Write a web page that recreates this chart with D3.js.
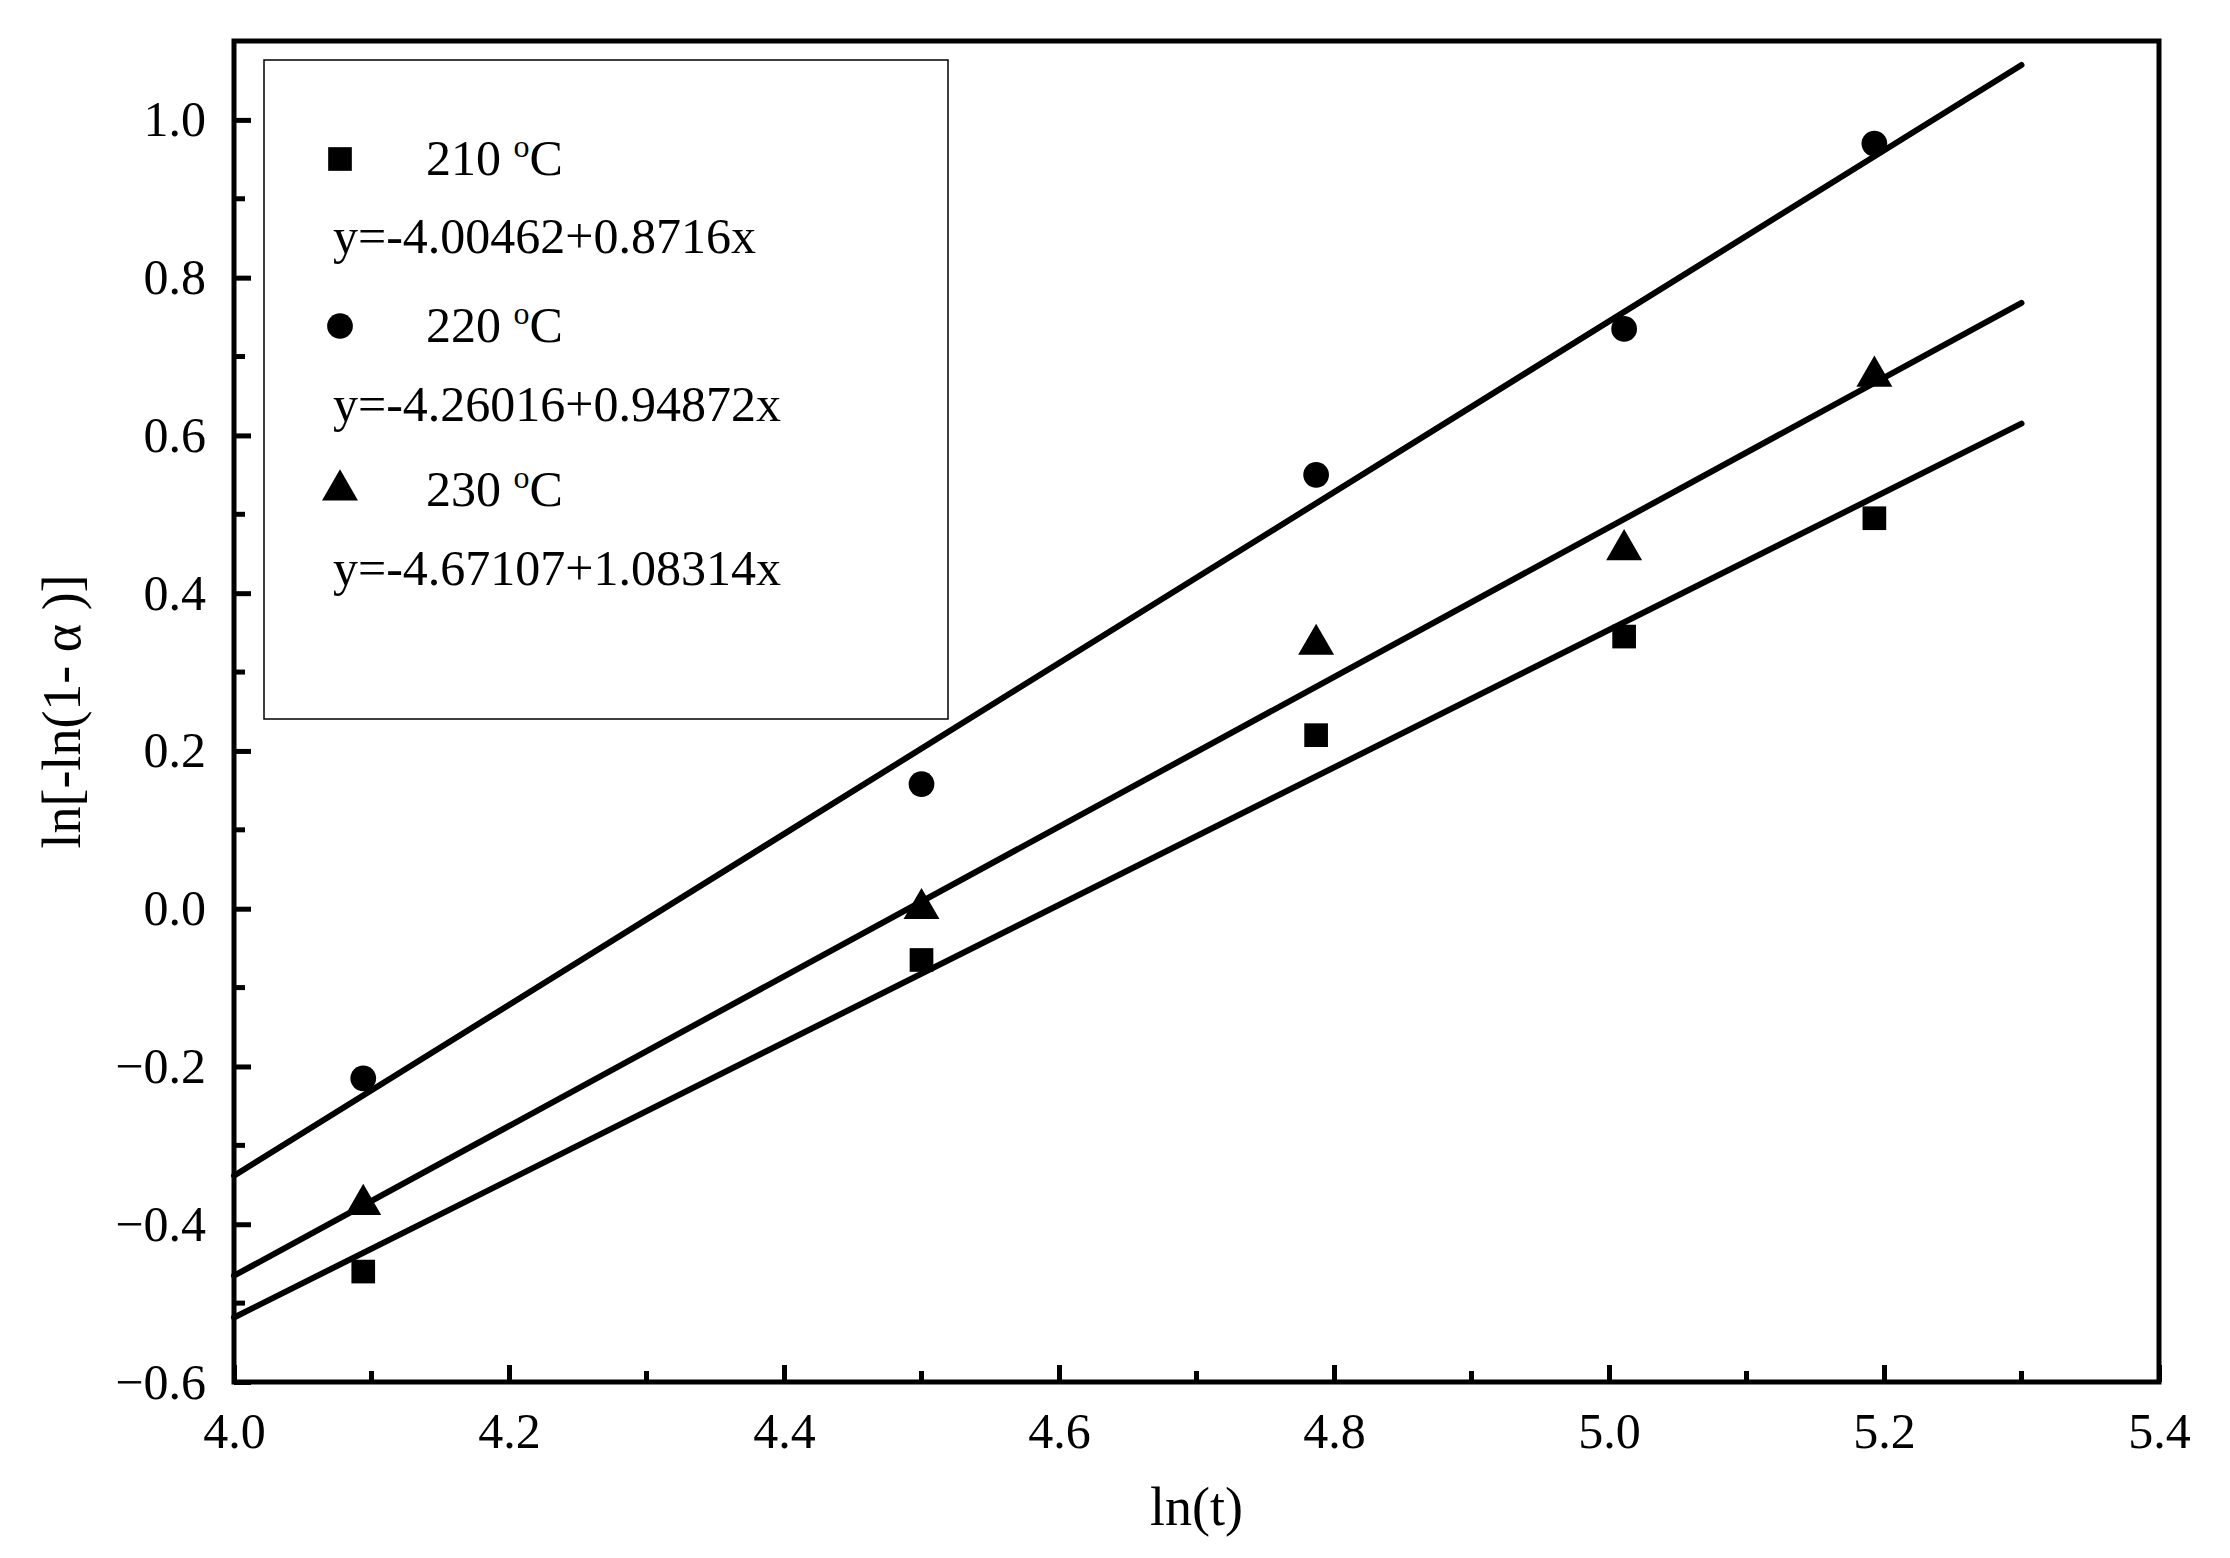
<!DOCTYPE html><html><head><meta charset="utf-8"><script src="https://cdn.jsdelivr.net/npm/d3@7"></script>
<style>body{margin:0;background:#fff}</style></head><body><svg id="c" width="2230" height="1558"></svg>
<script>
const xs=[4.094,4.5,4.787,5.011,5.193];
const s210=[-0.46,-0.065,0.22,0.345,0.495];
const s220=[-0.215,0.158,0.55,0.735,0.97];
const s230=[-0.375,0.0,0.335,0.455,0.675];
const fits=[[-4.00462,0.8716],[-4.67107,1.08314],[-4.26016,0.94872]];
const legendLabels=["210 °C","220 °C","230 °C"];
const eqs=["y=-4.00462+0.8716x","y=-4.26016+0.94872x","y=-4.67107+1.08314x"];
const xTicks=[4.0,4.2,4.4,4.6,4.8,5.0,5.2,5.4];
const yTicks=[-0.6,-0.4,-0.2,0.0,0.2,0.4,0.6,0.8,1.0];
const svg=d3.select("#c");
const L=234,R=2159,T=41,B=1382;
const x=d3.scaleLinear().domain([4.0,5.4]).range([L,R]);
const y=d3.scaleLinear().domain([-0.6,1.1]).range([B,T]);
const font="'Liberation Serif','Times New Roman',serif";
// minor ticks
const xMin=d3.range(4.1,5.4,0.2), yMin=d3.range(-0.5,1.1,0.2);
const gx=svg.append("g").attr("transform",`translate(0,${B})`)
 .call(d3.axisBottom(x).tickValues(xTicks).tickFormat(d3.format(".1f")).tickSize(-17).tickPadding(30));
gx.selectAll(".tick line").attr("stroke-width",5);
svg.append("g").attr("transform",`translate(0,${B})`).selectAll("line").data(xMin).join("line")
 .attr("x1",d=>x(d)).attr("x2",d=>x(d)).attr("y1",0).attr("y2",-11).attr("stroke","#000").attr("stroke-width",5);
const gy=svg.append("g").attr("transform",`translate(${L},0)`)
 .call(d3.axisLeft(y).tickValues(yTicks).tickFormat(d3.format(".1f")).tickSize(-17).tickPadding(28));
gy.selectAll(".tick line").attr("stroke-width",5);
svg.append("g").attr("transform",`translate(${L},0)`).selectAll("line").data(yMin).join("line")
 .attr("y1",d=>y(d)).attr("y2",d=>y(d)).attr("x1",0).attr("x2",11).attr("stroke","#000").attr("stroke-width",5);
svg.selectAll(".domain").remove();
svg.selectAll(".tick text").attr("font-family",font).attr("font-size",50).attr("fill","#000");
svg.append("rect").attr("x",L).attr("y",T).attr("width",R-L).attr("height",B-T).attr("fill","none").attr("stroke","#000").attr("stroke-width",5);
// fit lines
fits.forEach(([a,b])=>{
 svg.append("line").attr("x1",x(4.0)).attr("y1",y(a+b*4.0)).attr("x2",x(5.3)).attr("y2",y(a+b*5.3))
  .attr("stroke","#000").attr("stroke-width",6).attr("stroke-linecap","round");
});
const sq=d3.symbol(d3.symbolSquare,560), ci=d3.symbol(d3.symbolCircle,520), tr=d3.symbol(d3.symbolTriangle,560);
const series=[[s210,sq],[s220,ci],[s230,tr]];
series.forEach(([v,sym])=>{
 svg.append("g").selectAll("path").data(v).join("path")
  .attr("transform",(d,i)=>`translate(${x(xs[i])},${y(d)})`).attr("d",sym).attr("fill","#000");
});
// legend
svg.append("rect").attr("x",264).attr("y",60).attr("width",684).attr("height",659).attr("fill","none").attr("stroke","#000").attr("stroke-width",1.5);
const rowY=[159,326,490], eqY=[237,405,569], syms=[sq,ci,tr];
rowY.forEach((ry,i)=>{
 svg.append("path").attr("d",syms[i]).attr("fill","#000").attr("transform",`translate(340,${ry})`);
 const t=svg.append("text").attr("x",426).attr("y",ry+16).attr("font-family",font).attr("font-size",50);
 const parts=legendLabels[i].split(" °");
 t.append("tspan").text(parts[0]+" ");
 t.append("tspan").attr("baseline-shift","super").attr("font-size",32).text("o");
 t.append("tspan").text(parts[1]);
 svg.append("text").attr("x",333).attr("y",eqY[i]+16).attr("font-family",font).attr("font-size",50).text(eqs[i]);
});
svg.append("text").attr("x",(L+R)/2).attr("y",1525).attr("text-anchor","middle").attr("font-family",font).attr("font-size",54).text("ln(t)");
svg.append("text").attr("transform",`translate(80,${(T+B)/2}) rotate(-90)`).attr("text-anchor","middle").attr("font-family",font).attr("font-size",54).text("ln[-ln(1- α )]");
</script></body></html>
